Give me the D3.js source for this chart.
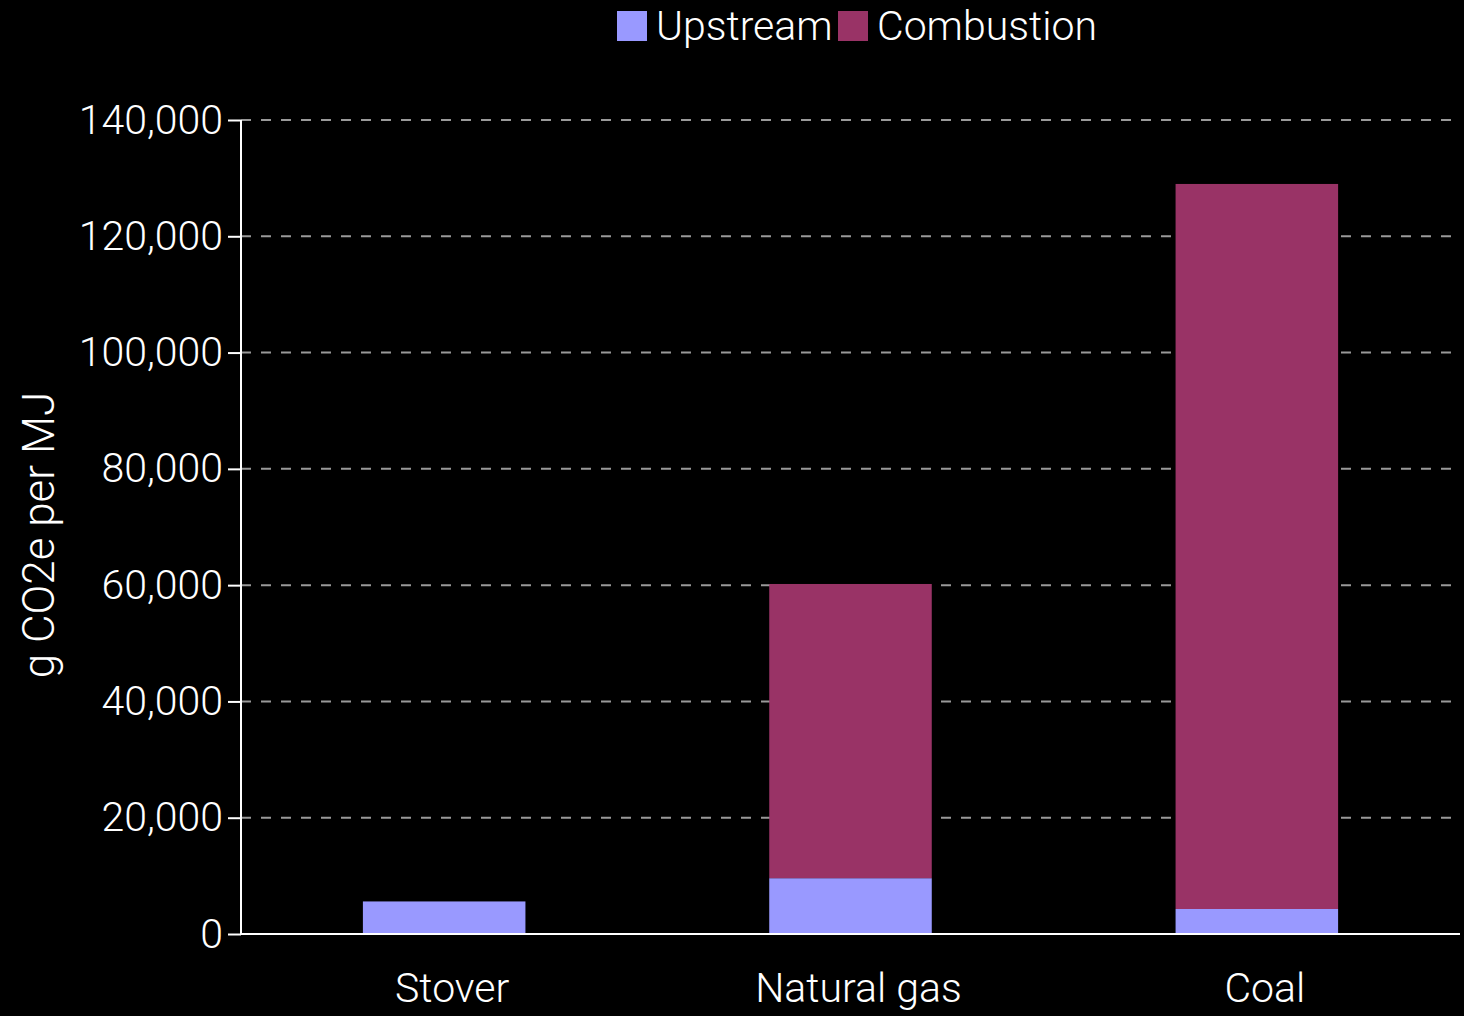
<!DOCTYPE html>
<html>
<head>
<meta charset="utf-8">
<script src="https://cdn.jsdelivr.net/npm/d3@7"></script>
<style>
  html, body { margin: 0; padding: 0; background: #000; }
  svg { display: block; }
  text { font-family: Roboto, "Liberation Sans", sans-serif; font-weight: 300; fill: #fff; }
</style>
</head>
<body>
<svg id="chart" width="1464" height="1016"></svg>
<script>
const categories = ["Stover", "Natural gas", "Coal"];
const seriesNames = ["Upstream", "Combustion"];
const upstream = [5600, 9600, 4300];
const combustion = [0, 50600, 124700];
const yTicks = [0, 20000, 40000, 60000, 80000, 100000, 120000, 140000];
const colors = ["#9999ff", "#993366"];
const yLabel = "g CO2e per MJ";

const W = 1464, H = 1016;
const m = { left: 241, right: 4, top: 120, bottom: 82 };
const svg = d3.select("#chart");
const FONT = 'Roboto, "Liberation Sans", sans-serif';

const x = d3.scaleBand().domain(categories).range([m.left, W - m.right])
  .paddingInner(0.6).paddingOuter(0.3);
const y = d3.scaleLinear().domain([0, 140000]).range([H - m.bottom, m.top]);

const table = categories.map((c, i) => ({ cat: c, Upstream: upstream[i], Combustion: combustion[i] }));
const stacked = d3.stack().keys(seriesNames)(table);

// gridlines
svg.append("g").selectAll("line").data(yTicks.filter(t => t > 0)).join("line")
  .attr("x1", m.left).attr("x2", W - m.right)
  .attr("y1", d => y(d)).attr("y2", d => y(d))
  .attr("stroke", "#999").attr("stroke-width", 2).attr("stroke-dasharray", "10,10");

// bars
svg.append("g").selectAll("g").data(stacked).join("g")
  .attr("fill", (d, i) => colors[i])
  .selectAll("rect").data(d => d).join("rect")
  .attr("x", d => x(d.data.cat))
  .attr("width", x.bandwidth())
  .attr("y", d => y(d[1]))
  .attr("height", d => y(d[0]) - y(d[1]));

// y axis
const yAxis = d3.axisLeft(y).tickValues(yTicks).tickSize(13).tickPadding(5)
  .tickFormat(d3.format(","));
const gy = svg.append("g").attr("transform", `translate(${m.left},0)`).call(yAxis);
gy.select(".domain").attr("stroke", "#fff").attr("stroke-width", 2).attr("d", `M0,${y(140000)}V${y(0)}`);
gy.selectAll(".tick line").attr("stroke", "#fff").attr("stroke-width", 2);
gy.selectAll(".tick text").attr("fill", "#fff").style("font-size", "41px")
  .style("font-family", FONT).style("font-weight", 300);

// x axis
const xAxis = d3.axisBottom(x).tickSize(0).tickPadding(39);
const gx = svg.append("g").attr("transform", `translate(0,${y(0)})`).call(xAxis);
gx.select(".domain").attr("stroke", "#fff").attr("stroke-width", 2)
  .attr("d", `M${m.left},0H${W - m.right}`);
gx.selectAll(".tick text").attr("fill", "#fff").attr("dx", 8).style("font-size", "41px")
  .style("font-family", FONT).style("font-weight", 300);

// y label
svg.append("text").attr("transform", `translate(54,${(y(0) + y(140000)) / 2 + 8}) rotate(-90)`)
  .attr("text-anchor", "middle").style("font-size", "44px").text(yLabel);

// legend
const legend = svg.append("g");
const lx = [617, 838];
seriesNames.forEach((s, i) => {
  legend.append("rect").attr("x", lx[i]).attr("y", 11).attr("width", 30).attr("height", 30).attr("fill", colors[i]);
  legend.append("text").attr("x", lx[i] + 39).attr("y", 40).style("font-size", "41px").text(s);
});
</script>
</body>
</html>
